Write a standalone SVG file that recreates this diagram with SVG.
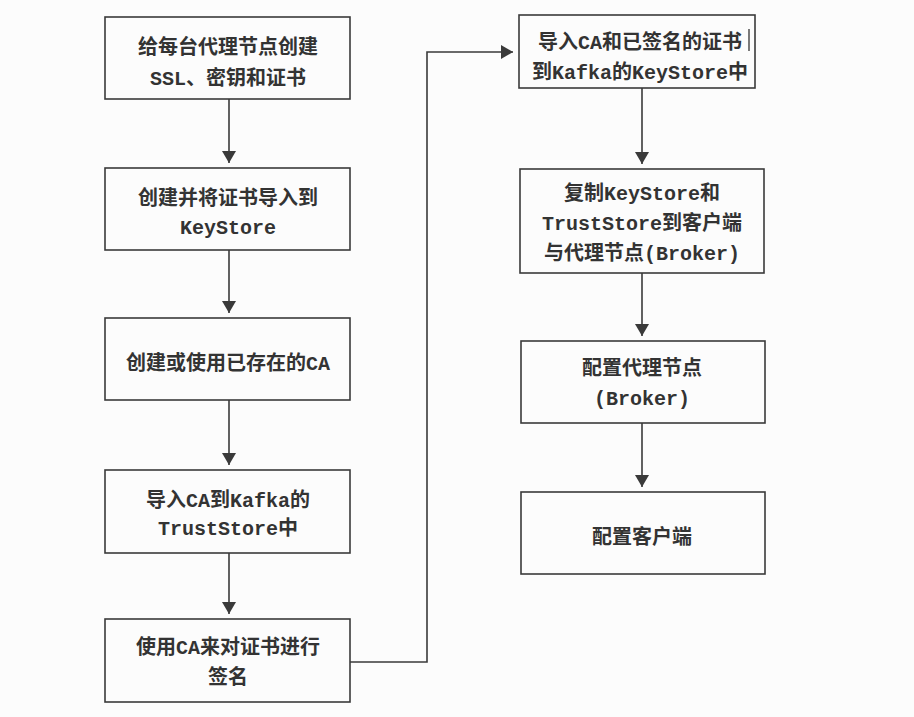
<svg xmlns="http://www.w3.org/2000/svg" width="914" height="717" viewBox="0 0 914 717">
<style>
.box{fill:none;stroke:#3a3a3a;stroke-width:1.6}
.t{font-family:"Liberation Mono","Noto Sans CJK SC",monospace;font-size:20px;font-weight:bold;fill:#333;text-anchor:middle}
.c{fill:none;stroke:#3a3a3a;stroke-width:1.6}
</style>
<defs>
<marker id="ah" viewBox="0 0 12 14" refX="12" refY="7" markerWidth="12" markerHeight="14" markerUnits="userSpaceOnUse" orient="auto">
<path d="M0,0 L12,7 L0,14 Z" fill="#3a3a3a"/>
</marker>
</defs>
<rect width="914" height="717" fill="#fcfcfc"/>
<g id="connectors">
<line class="c" x1="229" y1="99" x2="229" y2="163" marker-end="url(#ah)"/>
<line class="c" x1="229" y1="250" x2="229" y2="313" marker-end="url(#ah)"/>
<line class="c" x1="229" y1="400" x2="229" y2="465" marker-end="url(#ah)"/>
<line class="c" x1="229" y1="553" x2="229" y2="614" marker-end="url(#ah)"/>
<polyline class="c" points="350,662 427,662 427,52 513,52" marker-end="url(#ah)"/>
<line class="c" x1="642" y1="88" x2="642" y2="164" marker-end="url(#ah)"/>
<line class="c" x1="642" y1="273" x2="642" y2="336" marker-end="url(#ah)"/>
<line class="c" x1="642" y1="423" x2="642" y2="487" marker-end="url(#ah)"/>
</g>
<g id="n1">
<rect class="box" x="105" y="17" width="245" height="82"/>
<text class="t" x="228" y="54">给每台代理节点创建</text>
<text class="t" x="228" y="85">SSL、密钥和证书</text>
</g>
<g id="n2">
<rect class="box" x="105" y="168" width="245" height="82"/>
<text class="t" x="228" y="205">创建并将证书导入到</text>
<text class="t" x="228" y="234">KeyStore</text>
</g>
<g id="n3">
<rect class="box" x="105" y="318" width="245" height="82"/>
<text class="t" x="228" y="370">创建或使用已存在的CA</text>
</g>
<g id="n4">
<rect class="box" x="105" y="470" width="245" height="83"/>
<text class="t" x="228" y="507">导入CA到Kafka的</text>
<text class="t" x="228" y="535">TrustStore中</text>
</g>
<g id="n5">
<rect class="box" x="105" y="619" width="245" height="83"/>
<text class="t" x="228" y="654">使用CA来对证书进行</text>
<text class="t" x="228" y="684">签名</text>
</g>
<g id="n6">
<rect class="box" x="519" y="15" width="236" height="73"/>
<text class="t" x="640" y="49">导入CA和已签名的证书</text>
<text class="t" x="640" y="79">到Kafka的KeyStore中</text>
<line x1="749" y1="29" x2="749" y2="51" stroke="#222" stroke-width="1.2"/>
</g>
<g id="n7">
<rect class="box" x="520" y="169" width="244" height="104"/>
<text class="t" x="642" y="200">复制KeyStore和</text>
<text class="t" x="642" y="230">TrustStore到客户端</text>
<text class="t" x="642" y="260">与代理节点(Broker)</text>
</g>
<g id="n8">
<rect class="box" x="521" y="341" width="244" height="82"/>
<text class="t" x="642" y="375">配置代理节点</text>
<text class="t" x="642" y="405">(Broker)</text>
</g>
<g id="n9">
<rect class="box" x="521" y="492" width="244" height="82"/>
<text class="t" x="642" y="544">配置客户端</text>
</g>
</svg>
